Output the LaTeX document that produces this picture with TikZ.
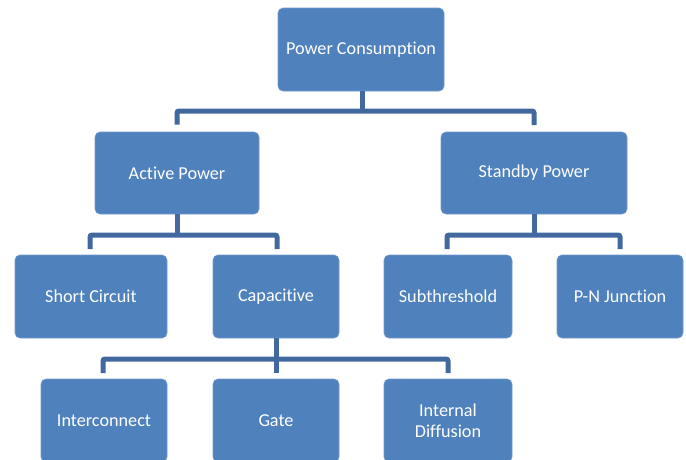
\documentclass[tikz,border=0pt]{standalone}
\usepackage{fontspec}
\setmainfont{Carlito}[Ligatures={NoCommon,NoRequired}]
\definecolor{boxfill}{HTML}{4F81BD}
\definecolor{linkcol}{HTML}{41699F}
\begin{document}
\begin{tikzpicture}[x=1pt,y=-1pt,
  box/.style={fill=boxfill,draw=boxfill!80!white,line width=0.6pt,rounded corners=5pt,text=white,
    font=\fontsize{18.2}{20.5}\selectfont,align=center,inner sep=0pt},
  link/.style={draw=linkcol,line width=5pt,rounded corners=2pt}]
\useasboundingbox (0,0) rectangle (686,459);
\clip (0,0) rectangle (686,459);
% boxes: (left,top) rectangle (right,bottom)
\newcommand{\mkbox}[6]{\node[box,minimum width=#4-#2,minimum height=#5-#3] (#1) at ({(#2+#4)/2},{(#3+#5)/2}) {#6};}
\mkbox{pc}{278}{8}{444}{91}{Power Consumption}
\mkbox{ap}{95}{132}{259}{214}{Active Power}
\mkbox{sp}{441}{132}{627}{214}{Standby Power}
\mkbox{sc}{15}{255}{167}{338}{Short Circuit}
\mkbox{cap}{213}{255}{339}{338}{Capacitive}
\mkbox{sub}{384}{255}{512}{338}{Subthreshold}
\mkbox{pn}{557}{255}{683}{338}{P-N Junction}
\mkbox{ic}{41}{379}{167}{462}{Interconnect}
\mkbox{gate}{213}{379}{339}{462}{Gate}
\mkbox{idf}{384}{379}{512}{462}{Internal\\Diffusion}
% connectors
\coordinate (j1) at (362,111);
\draw[link] (pc.south -| j1) -- (j1);
\draw[link] (ap.north -| 177,0) ++(0,-7) -- (177,111) -- (534,111) -- (534,125);
\draw[link] (ap.south -| 177,0) -- (177,235);
\draw[link] (90,249) -- (90,235) -- (277,235) -- (277,249);
\draw[link] (sp.south -| 534,0) -- (534,235);
\draw[link] (447,249) -- (447,235) -- (620,235) -- (620,249);
\draw[link] (cap.south -| 276,0) -- (276,373);
\draw[link] (103,373) -- (103,359) -- (448,359) -- (448,373);
\end{tikzpicture}
\end{document}
